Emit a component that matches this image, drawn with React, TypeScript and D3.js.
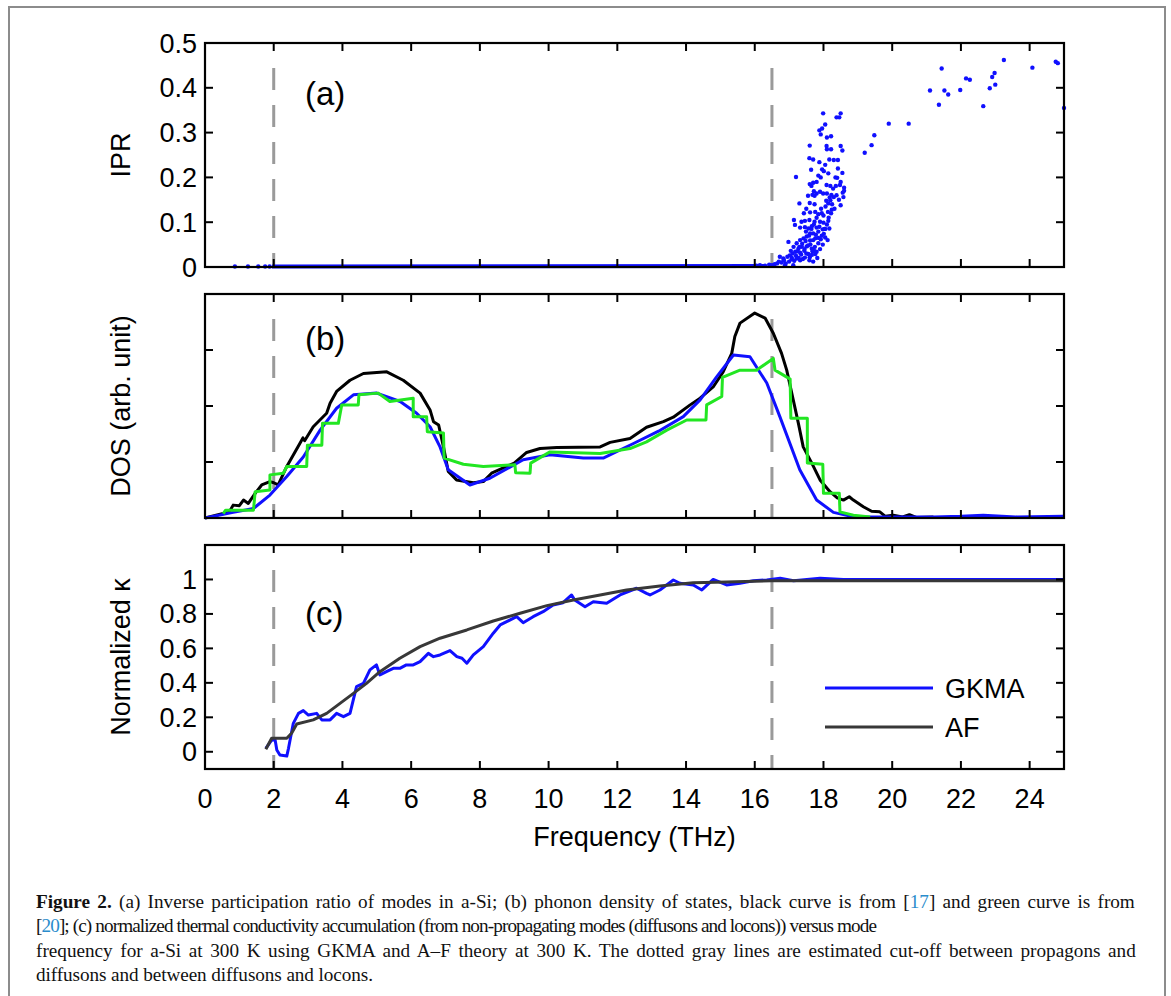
import React, { useLayoutEffect, useRef, useState } from "react";
import * as d3 from "d3";

// ---------- data ----------
const xTicks = [0, 2, 4, 6, 8, 10, 12, 14, 16, 18, 20, 22, 24];
const iprTicks = [0, 0.1, 0.2, 0.3, 0.4, 0.5];
const dosTicks = [1, 2, 3];
const kappaTicks = [0, 0.2, 0.4, 0.6, 0.8, 1];
const cutoffs = [2, 16.5];

// (a) IPR scatter
const iprLow: [number, number][] = [
  [0.87, 0.001], [1.25, 0.001], [1.55, 0.001], [1.75, 0.001], [1.88, 0.001],
];
// dense band of extended modes (thousands of points at IPR ~ 0)
const iprBand: [number, number][] = [
  [1.95, 0.001], [16.3, 0.002],
];
const iprCloud: [number, number][] = [
  [16.05, 0.003], [16.15, 0.004], [16.3, 0.003], [16.42, 0.005], [16.5, 0.004], [16.54, 0.003],
  [16.58, 0.006], [16.65, 0.008], [16.7, 0.012], [16.73, 0.023], [16.78, 0.01], [16.83, 0.019],
  [16.85, 0.015], [16.88, 0.004], [16.9, 0.008], [16.95, 0.023], [16.98, 0.056], [17.0, 0.012],
  [17.02, 0.026], [17.05, 0.036], [17.07, 0.017], [17.08, 0.02], [17.1, 0.03], [17.12, 0.004],
  [17.13, 0.045], [17.14, 0.105], [17.15, 0.014], [17.17, 0.094], [17.18, 0.034], [17.2, 0.201],
  [17.2, 0.025], [17.22, 0.053], [17.22, 0.019], [17.25, 0.035], [17.27, 0.041], [17.28, 0.02],
  [17.3, 0.142], [17.3, 0.045], [17.32, 0.088], [17.32, 0.06], [17.32, 0.032], [17.32, 0.015],
  [17.35, 0.028], [17.36, 0.101], [17.37, 0.045], [17.38, 0.052], [17.4, 0.018], [17.42, 0.064],
  [17.43, 0.12], [17.44, 0.036], [17.45, 0.04], [17.46, 0.103], [17.46, 0.089], [17.46, 0.021],
  [17.48, 0.058], [17.49, 0.079], [17.5, 0.13], [17.5, 0.03], [17.51, 0.068], [17.51, 0.046],
  [17.55, 0.159], [17.55, 0.048], [17.56, 0.086], [17.56, 0.029], [17.58, 0.07], [17.59, 0.243],
  [17.59, 0.105], [17.59, 0.015], [17.6, 0.271], [17.6, 0.185], [17.6, 0.143], [17.6, 0.022],
  [17.61, 0.122], [17.61, 0.075], [17.61, 0.059], [17.62, 0.05], [17.64, 0.217], [17.65, 0.181],
  [17.65, 0.085], [17.66, 0.091], [17.66, 0.041], [17.66, 0.027], [17.68, 0.161], [17.68, 0.035],
  [17.7, 0.24], [17.7, 0.188], [17.7, 0.075], [17.7, 0.06], [17.7, 0.012], [17.72, 0.169],
  [17.72, 0.095], [17.72, 0.038], [17.74, 0.159], [17.74, 0.14], [17.74, 0.101], [17.75, 0.045],
  [17.76, 0.123], [17.76, 0.064], [17.76, 0.029], [17.78, 0.072], [17.8, 0.19], [17.8, 0.164],
  [17.8, 0.11], [17.8, 0.088], [17.8, 0.034], [17.82, 0.02], [17.85, 0.204], [17.85, 0.118],
  [17.85, 0.079], [17.85, 0.065], [17.85, 0.053], [17.88, 0.305], [17.88, 0.234], [17.88, 0.09],
  [17.9, 0.168], [17.9, 0.101], [17.9, 0.04], [17.92, 0.296], [17.92, 0.2], [17.92, 0.062],
  [17.93, 0.13], [17.95, 0.12], [17.95, 0.07], [17.96, 0.309], [17.96, 0.218], [17.98, 0.084],
  [17.98, 0.05], [17.99, 0.343], [17.99, 0.164], [18.0, 0.115], [18.0, 0.099], [18.01, 0.214],
  [18.01, 0.074], [18.03, 0.085], [18.05, 0.318], [18.05, 0.228], [18.05, 0.085], [18.05, 0.066],
  [18.06, 0.135], [18.08, 0.148], [18.09, 0.27], [18.09, 0.183], [18.1, 0.289], [18.1, 0.263],
  [18.1, 0.164], [18.1, 0.095], [18.12, 0.06], [18.13, 0.123], [18.14, 0.209], [18.14, 0.142],
  [18.14, 0.103], [18.15, 0.11], [18.17, 0.24], [18.17, 0.086], [18.18, 0.155], [18.2, 0.181],
  [18.2, 0.149], [18.22, 0.292], [18.22, 0.263], [18.22, 0.12], [18.23, 0.161], [18.24, 0.128],
  [18.25, 0.14], [18.28, 0.175], [18.3, 0.239], [18.3, 0.156], [18.32, 0.13], [18.35, 0.2],
  [18.36, 0.181], [18.38, 0.334], [18.38, 0.16], [18.4, 0.199], [18.42, 0.239], [18.42, 0.22],
  [18.45, 0.15], [18.46, 0.334], [18.48, 0.183], [18.5, 0.343], [18.5, 0.27], [18.5, 0.19],
  [18.5, 0.138], [18.55, 0.26], [18.55, 0.21], [18.56, 0.166], [18.58, 0.156], [18.6, 0.177],
  [18.6, 0.17],
];
const iprHigh: [number, number][] = [
  [19.2, 0.255], [19.4, 0.272], [19.48, 0.294], [19.9, 0.32], [20.48, 0.32],
  [21.1, 0.394], [21.36, 0.362], [21.44, 0.443], [21.52, 0.394], [21.63, 0.385],
  [21.98, 0.395], [22.15, 0.421], [22.26, 0.418], [22.65, 0.359], [22.84, 0.399],
  [22.91, 0.424], [22.98, 0.433], [23.0, 0.407], [23.25, 0.462], [24.08, 0.445],
  [24.76, 0.458], [24.82, 0.455], [25.0, 0.355],
];

// (b) DOS curves
const dosBlack: [number, number][] = [
  [0, 0], [0.53, 0.08], [0.7, 0.1], [0.82, 0.23], [1.0, 0.22], [1.12, 0.32], [1.26, 0.26],
  [1.46, 0.44], [1.65, 0.59], [1.89, 0.65], [2.0, 0.63], [2.13, 0.59], [2.38, 0.92],
  [2.76, 1.33], [2.85, 1.43], [2.9, 1.38], [3.15, 1.63], [3.54, 1.87], [3.64, 2.05],
  [3.83, 2.26], [4.22, 2.46], [4.61, 2.58], [5.29, 2.61], [5.77, 2.46], [6.26, 2.23],
  [6.55, 1.93], [6.65, 1.72], [6.8, 1.66], [6.94, 1.27], [7.08, 0.83], [7.32, 0.68],
  [7.81, 0.63], [8.1, 0.65], [8.34, 0.8], [8.78, 0.92], [9.0, 0.98], [9.36, 1.17],
  [9.75, 1.24], [10.24, 1.26], [11.5, 1.27], [11.79, 1.35], [12.37, 1.42], [12.85, 1.62],
  [13.34, 1.72], [13.63, 1.8], [14.12, 2.02], [14.41, 2.14], [14.79, 2.34], [15.08, 2.61],
  [15.33, 2.94], [15.42, 3.24], [15.57, 3.48], [16.0, 3.66], [16.3, 3.57], [16.54, 3.3],
  [16.78, 2.94], [16.93, 2.64], [17.12, 2.11], [17.27, 1.69], [17.41, 1.27], [17.66, 0.98],
  [17.9, 0.68], [18.19, 0.47], [18.4, 0.36], [18.58, 0.32], [18.75, 0.38], [18.87, 0.32],
  [19.16, 0.2], [19.4, 0.12], [19.64, 0.11], [19.8, 0.03], [20.03, 0.05], [20.3, 0.02],
  [20.5, 0.06], [20.7, 0.01], [21.2, 0.02],
];
const dosBlue: [number, number][] = [
  [0, 0], [0.82, 0.1], [1.41, 0.17], [1.89, 0.41], [2.38, 0.74], [2.86, 1.09], [3.35, 1.57],
  [3.83, 1.96], [4.32, 2.2], [5.0, 2.23], [5.68, 2.08], [6.16, 1.87], [6.55, 1.63],
  [6.84, 1.27], [7.08, 0.86], [7.71, 0.59], [8.29, 0.71], [9.26, 1.04], [10.04, 1.13],
  [11.01, 1.07], [11.59, 1.07], [12.47, 1.33], [13.2, 1.55], [13.92, 1.81], [14.41, 2.11],
  [14.89, 2.52], [15.38, 2.91], [15.86, 2.88], [16.35, 2.41], [16.73, 1.81], [17.31, 0.86],
  [17.8, 0.32], [18.29, 0.1], [18.87, 0.02], [21.2, 0.02], [22.0, 0.03], [22.65, 0.05],
  [23.6, 0.02], [25, 0.03],
];
const dosGreen: [number, number][] = [
  [0.53, 0.08], [0.6, 0.14], [1.41, 0.14], [1.46, 0.47], [1.89, 0.5], [1.89, 0.77],
  [2.28, 0.8], [2.38, 0.92], [2.96, 0.92], [2.98, 1.3], [3.4, 1.3], [3.42, 1.69],
  [3.88, 1.69], [3.98, 2.02], [4.46, 2.02], [4.48, 2.2], [5.04, 2.23], [5.38, 2.08],
  [6.06, 2.14], [6.06, 1.81], [6.45, 1.81], [6.47, 1.54], [6.94, 1.52], [6.96, 1.07],
  [7.52, 0.96], [8.1, 0.92], [9.02, 0.95], [9.04, 0.81], [9.46, 0.8], [9.48, 0.98],
  [10.04, 1.18], [11.5, 1.15], [12.37, 1.24], [12.85, 1.36], [13.44, 1.57], [14.02, 1.75],
  [14.58, 1.75], [14.6, 2.02], [15.04, 2.17], [15.06, 2.51], [15.57, 2.64], [16.05, 2.64],
  [16.54, 2.85], [16.59, 2.64], [17.03, 2.48], [17.05, 1.78], [17.53, 1.78], [17.53, 0.98],
  [17.98, 0.96], [18.0, 0.44], [18.46, 0.44], [18.48, 0.11], [18.87, 0.05], [19.36, 0.02],
];

// (c) normalized kappa accumulation
const kappaGKMA: [number, number][] = [
  [1.77, 0.02], [1.94, 0.067], [2.04, 0.07], [2.09, 0.01], [2.18, -0.019], [2.38, -0.025],
  [2.43, 0.02], [2.57, 0.165], [2.72, 0.223], [2.86, 0.239], [3.01, 0.213], [3.25, 0.223],
  [3.4, 0.185], [3.64, 0.185], [3.83, 0.223], [4.03, 0.204], [4.22, 0.223], [4.41, 0.378],
  [4.61, 0.397], [4.8, 0.475], [4.99, 0.504], [5.09, 0.446], [5.28, 0.465], [5.48, 0.484],
  [5.67, 0.484], [5.86, 0.504], [6.06, 0.504], [6.26, 0.523], [6.5, 0.571], [6.65, 0.552],
  [6.84, 0.562], [7.13, 0.587], [7.33, 0.552], [7.48, 0.543], [7.62, 0.514], [7.81, 0.562],
  [8.1, 0.61], [8.39, 0.688], [8.59, 0.736], [8.78, 0.755], [9.07, 0.784], [9.26, 0.749],
  [9.55, 0.784], [9.84, 0.813], [10.13, 0.852], [10.42, 0.865], [10.67, 0.91], [10.76, 0.881],
  [11.06, 0.842], [11.3, 0.871], [11.69, 0.862], [12.08, 0.91], [12.56, 0.949], [12.85, 0.919],
  [12.95, 0.91], [13.24, 0.939], [13.63, 0.997], [13.82, 0.978], [14.21, 0.968], [14.46, 0.939],
  [14.79, 1.0], [15.18, 0.968], [15.57, 0.978], [15.96, 0.993], [16.35, 0.997], [16.74, 1.007],
  [17.13, 0.993], [17.9, 1.007], [18.58, 1.0], [21.97, 1.0], [25, 1.0],
];
const kappaAF: [number, number][] = [
  [1.77, 0.015], [1.94, 0.078], [2.38, 0.078], [2.52, 0.107], [2.67, 0.161], [3.15, 0.185],
  [3.54, 0.223], [3.93, 0.281], [4.32, 0.339], [4.7, 0.397], [5.09, 0.465], [5.67, 0.543],
  [6.26, 0.61], [6.84, 0.659], [7.62, 0.707], [8.39, 0.759], [9.17, 0.804], [9.95, 0.848],
  [10.72, 0.881], [11.5, 0.91], [12.27, 0.939], [13.24, 0.962], [14.21, 0.981], [15.18, 0.985],
  [16.49, 0.993], [25, 0.993],
];

const legendItems = [
  { label: "GKMA", color: "#1010ff" },
  { label: "AF", color: "#383838" },
];

// caption: target line widths (lines 1 and 3 are justified)
const captionWidths = [1098, 841, 1099, 337];
const captionBaselines = [908, 932, 957, 981];

// ---------- layout ----------
const W = 1171;
const H = 996;
const L = 205;
const R = 1064;
const panels = {
  a: { top: 43, bottom: 267 },
  b: { top: 294, bottom: 518 },
  c: { top: 545, bottom: 769 },
};
const FONT = "'Liberation Sans', Arial, Helvetica, sans-serif";
const BLUE = "#1010ff";
const GREEN = "#22e622";
const REFBLUE = "#2a8ccc";

const x = d3.scaleLinear().domain([0, 25]).range([L, R]);
const yA = d3.scaleLinear().domain([0, 0.5]).range([panels.a.bottom, panels.a.top]);
const yB = d3.scaleLinear().domain([0, 4]).range([panels.b.bottom, panels.b.top]);
const yC = d3.scaleLinear().domain([-0.1, 1.2]).range([panels.c.bottom, panels.c.top]);

function Frame({ top, bottom, y, yt }: { top: number; bottom: number; y: d3.ScaleLinear<number, number>; yt: number[] }) {
  const tl = 8;
  return (
    <g>
      {xTicks.filter((t) => t > 0).map((t) => (
        <g key={"x" + t}>
          <line x1={x(t)} x2={x(t)} y1={bottom} y2={bottom - tl} stroke="#000" strokeWidth={2} />
          <line x1={x(t)} x2={x(t)} y1={top} y2={top + tl} stroke="#000" strokeWidth={2} />
        </g>
      ))}
      {yt.map((t) => (
        <g key={"y" + t}>
          <line x1={L} x2={L + tl} y1={y(t)} y2={y(t)} stroke="#000" strokeWidth={2} />
          <line x1={R} x2={R - tl} y1={y(t)} y2={y(t)} stroke="#000" strokeWidth={2} />
        </g>
      ))}
      <rect x={L} y={top} width={R - L} height={bottom - top} fill="none" stroke="#000" strokeWidth={2.2} />
    </g>
  );
}

function Cutoffs({ top, bottom }: { top: number; bottom: number }) {
  return (
    <g>
      {cutoffs.map((c) => (
        <line key={c} x1={x(c)} x2={x(c)} y1={top + 25} y2={bottom} stroke="#9a9a9a" strokeWidth={3} strokeDasharray="22 15" />
      ))}
    </g>
  );
}

function YTickLabels({ y, ticks }: { y: d3.ScaleLinear<number, number>; ticks: number[] }) {
  return (
    <g fontFamily={FONT} fontSize={27} textAnchor="end">
      {ticks.map((t) => (
        <text key={t} x={L - 8} y={y(t) + 9.5}>
          {t === 0 ? "0" : String(t)}
        </text>
      ))}
    </g>
  );
}

function YLabel({ text, top, bottom }: { text: string; top: number; bottom: number }) {
  const cy = (top + bottom) / 2;
  return (
    <text transform={`translate(130,${cy}) rotate(-90)`} textAnchor="middle" fontFamily={FONT} fontSize={27}>
      {text}
    </text>
  );
}

type CapState = { s: number; ws: number[]; tl: (number | undefined)[] };

export default function App() {
  const lineA = d3.line<[number, number]>().x((d) => x(d[0])).y((d) => yA(d[1]));
  const lineB = d3.line<[number, number]>().x((d) => x(d[0])).y((d) => yB(d[1]));
  const lineC = d3.line<[number, number]>().x((d) => x(d[0])).y((d) => yC(d[1]));
  const dots = [...iprLow, ...iprCloud, ...iprHigh];

  const capRefs = useRef<(SVGTextElement | null)[]>([]);
  const [cap, setCap] = useState<CapState>({ s: 0.9, ws: [0, 0, 0, 0], tl: [undefined, undefined, undefined, undefined] });
  useLayoutEffect(() => {
    const els = capRefs.current;
    if (!els[0] || !els[2]) return;
    const spaces = (el: SVGTextElement) => ((el.textContent || "").match(/ /g) || []).length;
    const len1 = els[0].getComputedTextLength();
    const n1 = spaces(els[0]);
    const s = (captionWidths[0] - 2.5 * n1) / len1;
    const ws0 = 2.5 / s;
    const len3 = els[2].getComputedTextLength();
    const ws2 = (captionWidths[2] / s - len3) / spaces(els[2]);
    setCap({
      s,
      ws: [ws0, 0, ws2, 0],
      tl: [undefined, captionWidths[1] / s, undefined, captionWidths[3] / s],
    });
  }, []);

  return (
    <svg width={W} height={H} style={{ position: "absolute", left: 0, top: 0, background: "#fff" }}>
      <rect x={0} y={0} width={W} height={H} fill="#fff" />
      {/* outer figure frame */}
      <path d={`M9,${H + 5} V7 H1165 V${H + 5}`} fill="none" stroke="#8c8c8c" strokeWidth={2} />

      {/* panel (a) */}
      <Cutoffs top={panels.a.top} bottom={panels.a.bottom} />
      <path d={lineA(iprBand) || ""} stroke={BLUE} strokeWidth={4} fill="none" />
      {dots.map((d, i) => (
        <circle key={i} cx={x(d[0])} cy={yA(d[1])} r={2.2} fill={BLUE} />
      ))}
      <Frame top={panels.a.top} bottom={panels.a.bottom} y={yA} yt={iprTicks} />
      <YTickLabels y={yA} ticks={iprTicks} />
      <YLabel text="IPR" top={panels.a.top} bottom={panels.a.bottom} />
      <text x={305} y={105} fontFamily={FONT} fontSize={33}>(a)</text>

      {/* panel (b) */}
      <Cutoffs top={panels.b.top} bottom={panels.b.bottom} />
      <path d={lineB(dosBlack) || ""} stroke="#000" strokeWidth={3} fill="none" strokeLinejoin="round" />
      <path d={lineB(dosBlue) || ""} stroke={BLUE} strokeWidth={3} fill="none" strokeLinejoin="round" />
      <path d={lineB(dosGreen) || ""} stroke={GREEN} strokeWidth={3} fill="none" strokeLinejoin="round" />
      <Frame top={panels.b.top} bottom={panels.b.bottom} y={yB} yt={dosTicks} />
      <YLabel text="DOS (arb. unit)" top={panels.b.top} bottom={panels.b.bottom} />
      <text x={305} y={350} fontFamily={FONT} fontSize={33}>(b)</text>

      {/* panel (c) */}
      <Cutoffs top={panels.c.top} bottom={panels.c.bottom} />
      <path d={lineC(kappaGKMA) || ""} stroke={BLUE} strokeWidth={3} fill="none" strokeLinejoin="round" />
      <path d={lineC(kappaAF) || ""} stroke="#383838" strokeWidth={3} fill="none" strokeLinejoin="round" />
      <Frame top={panels.c.top} bottom={panels.c.bottom} y={yC} yt={kappaTicks} />
      <YTickLabels y={yC} ticks={kappaTicks} />
      <YLabel text="Normalized κ" top={panels.c.top} bottom={panels.c.bottom} />
      <text x={305} y={625} fontFamily={FONT} fontSize={33}>(c)</text>
      {legendItems.map((it, i) => (
        <g key={it.label}>
          <line x1={825} x2={933} y1={688 + i * 39} y2={688 + i * 39} stroke={it.color} strokeWidth={3} />
          <text x={945} y={688 + i * 39 + 9.5} fontFamily={FONT} fontSize={27}>{it.label}</text>
        </g>
      ))}
      <g fontFamily={FONT} fontSize={27} textAnchor="middle">
        {xTicks.map((t) => (
          <text key={t} x={x(t)} y={808}>{t}</text>
        ))}
        <text x={(L + R) / 2} y={846}>Frequency (THz)</text>
      </g>

      {/* caption */}
      <g transform={`translate(36,0) scale(${cap.s},1)`} fontFamily="'Liberation Serif', 'DejaVu Serif', serif" fontSize={18.5} fill="#111">
        <text ref={(el) => { capRefs.current[0] = el; }} x={0} y={captionBaselines[0]} wordSpacing={cap.ws[0]}>
          <tspan fontWeight="bold">Figure 2.</tspan> (a) Inverse participation ratio of modes in a-Si; (b) phonon density of states, black curve is from [<tspan fill={REFBLUE}>17</tspan>] and green curve is from
        </text>
        <text ref={(el) => { capRefs.current[1] = el; }} x={0} y={captionBaselines[1]} textLength={cap.tl[1]} lengthAdjust="spacing">
          [<tspan fill={REFBLUE}>20</tspan>]; (c) normalized thermal conductivity accumulation (from non-propagating modes (diffusons and locons)) versus mode
        </text>
        <text ref={(el) => { capRefs.current[2] = el; }} x={0} y={captionBaselines[2]} wordSpacing={cap.ws[2]}>
          frequency for a-Si at 300 K using GKMA and A–F theory at 300 K. The dotted gray lines are estimated cut-off between propagons and
        </text>
        <text ref={(el) => { capRefs.current[3] = el; }} x={0} y={captionBaselines[3]} textLength={cap.tl[3]} lengthAdjust="spacing">
          diffusons and between diffusons and locons.
        </text>
      </g>
    </svg>
  );
}
